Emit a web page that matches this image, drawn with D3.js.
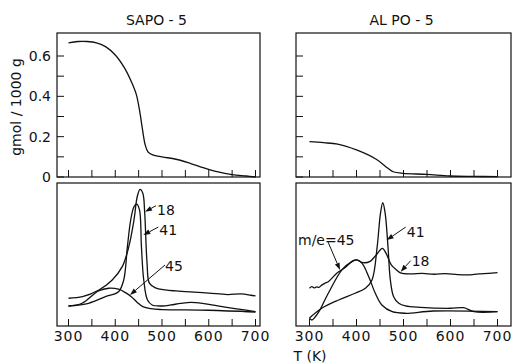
<!DOCTYPE html>
<html>
<head>
<meta charset="utf-8">
<script src="https://cdn.jsdelivr.net/npm/d3@7/dist/d3.min.js"></script>
<style>
  body { margin: 0; background: #fff; }
  svg text { font-family: "DejaVu Sans", sans-serif; fill: #111; }
</style>
</head>
<body>
<div id="chart"></div>
<script>
// temperature (K) and values
// top: amount adsorbed, gmol/1000 g
var sapoT   = [300, 320, 340, 360, 380, 400, 420, 435, 445, 452, 458, 464, 470, 480, 500, 530, 560, 590, 620, 650, 680, 700];
var sapoAds = [0.665, 0.672, 0.672, 0.665, 0.645, 0.605, 0.54, 0.47, 0.41, 0.33, 0.24, 0.16, 0.125, 0.11, 0.10, 0.088, 0.068, 0.045, 0.025, 0.012, 0.005, 0.0];
var alpoT   = [300, 330, 360, 400, 442, 467, 478, 499, 549, 598, 650, 700];
var alpoAds = [0.175, 0.17, 0.163, 0.134, 0.088, 0.043, 0.026, 0.018, 0.013, 0.005, 0.003, 0.002];

// bottom: desorption signal (arbitrary units), SAPO-5
var sapoT18 = [300, 330, 365, 393, 415, 429, 440, 447, 453, 459, 463, 468, 473, 486, 507, 530, 560, 600, 640, 670, 690, 700];
var sapoM18 = [19.4, 20.5, 25.2, 32, 41.5, 55.5, 74, 90.4, 95.6, 92.8, 79, 44, 30, 26.6, 25.2, 24.5, 23.8, 23, 22, 22.4, 21.5, 21];
var sapoT41 = [300, 343, 379, 407, 418, 426, 433, 440, 446, 452, 456, 461, 469, 479, 501, 519, 540, 562, 590, 619, 660, 700];
var sapoM41 = [14, 15.9, 20.5, 24, 32, 55.5, 74, 83.4, 85.3, 81, 55.5, 32, 18.2, 14.7, 14, 14.7, 15.8, 16.5, 15.6, 14, 12, 10.1];
var sapoT45 = [300, 329, 364, 386, 407, 422, 435, 447, 459, 476, 500, 600, 700];
var sapoM45 = [14, 15.9, 24.5, 26.4, 25.7, 23.3, 20.3, 16.5, 13.5, 12.1, 11.5, 11, 9.8];

// bottom: ALPO-5
var alpoT18 = [300, 305, 310, 315, 320, 326, 333, 340, 358, 376, 393, 400, 414, 428, 442, 455, 463, 474, 485, 495, 516, 540, 565, 590, 615, 636, 660, 680, 700];
var alpoM18 = [26.4, 27.5, 26.6, 27.3, 27, 28.6, 29.9, 31, 36.9, 41, 45.7, 46.2, 44.3, 45, 49.7, 54.3, 50.8, 42.7, 39.2, 36.9, 36.4, 36.8, 36.2, 36.6, 35.9, 35.7, 36.4, 36.8, 37.3];
var alpoT41 = [300, 326, 362, 397, 419, 433, 444, 451, 456, 461, 467, 472, 479, 490, 504, 536, 600, 628, 650, 700];
var alpoM41 = [5.6, 12.4, 18.2, 22.9, 26.4, 32.2, 55.5, 78.8, 86.2, 78.8, 55.5, 32.2, 20.5, 15.9, 14, 13, 12.4, 12.8, 10, 10];
var alpoT45 = [300, 305, 312, 320, 340, 369, 390, 401, 412, 426, 440, 454, 476, 504, 563, 700];
var alpoM45 = [5.5, 4.2, 6.3, 10, 22.9, 39.2, 45, 46.2, 43.8, 34.5, 22.9, 14.7, 10, 8.9, 10.5, 10];

var xTicks = [300, 350, 400, 450, 500, 550, 600, 650, 700];
var xLabels = [300, 400, 500, 600, 700];
var yTicks = [0, 0.1, 0.2, 0.3, 0.4, 0.5, 0.6];
var yLabels = [0, 0.2, 0.4, 0.6];

var W = 513, H = 363;
var svg = d3.select("#chart").append("svg")
    .attr("width", W).attr("height", H);

var topY = d3.scaleLinear().domain([0, 0.6]).range([177, 56]);
var botY = d3.scaleLinear().domain([0, 100]).range([326, 183]);

var cols = [
  { x: d3.scaleLinear().domain([300, 700]).range([68.5, 255.5]), l: 57, r: 260, title: "SAPO - 5",
    ads: [sapoT, sapoAds],
    ms: [[sapoT18, sapoM18], [sapoT41, sapoM41], [sapoT45, sapoM45]],
    notes: [
      { text: "18", t: 463.6, v: 79.9, dx: 11, dy: -6, lx: 12, ly: -2 },
      { text: "41", t: 460, v: 63.6, dx: 15, dy: -8, lx: 16, ly: -5 },
      { text: "45", t: 431.6, v: 21.7, dx: 35, dy: -30, lx: 35, ly: -29 }
    ], yAxis: true },
  { x: d3.scaleLinear().domain([300, 700]).range([309.5, 497.5]), l: 296, r: 511, title: "AL PO - 5",
    ads: [alpoT, alpoAds],
    ms: [[alpoT18, alpoM18], [alpoT41, alpoM41], [alpoT45, alpoM45]],
    notes: [
      { text: "m/e=45", t: 364.9, v: 39.2, dx: -12, dy: -28, lx: -42, ly: -30 },
      { text: "41", t: 464.3, v: 60.1, dx: 19, dy: -13, lx: 20, ly: -8 },
      { text: "18", t: 494, v: 38, dx: 10, dy: -11, lx: 11, ly: -11 }
    ], yAxis: false }
];

var line = function(xs) {
  return d3.line()
    .x(function(d) { return xs(d[0]); })
    .y(function(d) { return d[1]; })
    .curve(d3.curveCatmullRom.alpha(0.5));
};

cols.forEach(function(c) {
  var g = svg.append("g");

  // frames
  g.append("rect").attr("x", c.l).attr("y", 33).attr("width", c.r - c.l).attr("height", 177 - 33)
    .attr("fill", "none").attr("stroke", "#111").attr("stroke-width", 1.2);
  g.append("rect").attr("x", c.l).attr("y", 183).attr("width", c.r - c.l).attr("height", 326 - 183)
    .attr("fill", "none").attr("stroke", "#111").attr("stroke-width", 1.2);

  // title
  g.append("text").attr("x", (c.l + c.r) / 2 - 2).attr("y", 25)
    .attr("text-anchor", "middle").style("font-size", "14px").text(c.title);

  // x ticks (inward) on both panels
  [177, 326].forEach(function(yb) {
    g.selectAll(null).data(xTicks).enter().append("line")
      .attr("x1", function(d) { return c.x(d); }).attr("x2", function(d) { return c.x(d); })
      .attr("y1", yb).attr("y2", yb - 7)
      .attr("stroke", "#111").attr("stroke-width", 1);
  });
  g.selectAll(null).data(xLabels).enter().append("text")
    .attr("x", function(d) { return c.x(d); }).attr("y", 341)
    .attr("text-anchor", "middle").style("font-size", "14px").style("letter-spacing", "1px")
    .text(function(d) { return d; });

  // y ticks top panel
  g.selectAll(null).data(yTicks).enter().append("line")
    .attr("x1", c.l).attr("x2", c.l + 7)
    .attr("y1", function(d) { return topY(d); }).attr("y2", function(d) { return topY(d); })
    .attr("stroke", "#111").attr("stroke-width", 1);

  if (c.yAxis) {
    g.selectAll(null).data(yLabels).enter().append("text")
      .attr("x", c.l - 6).attr("y", function(d) { return topY(d) + 5; })
      .attr("text-anchor", "end").style("font-size", "14px")
      .text(function(d) { return d === 0 ? "0" : d3.format(".1f")(d); });
  }

  // adsorption curve
  var adsData = c.ads[0].map(function(t, i) { return [t, topY(c.ads[1][i])]; });
  g.append("path").attr("d", line(c.x)(adsData))
    .attr("fill", "none").attr("stroke", "#111").attr("stroke-width", 1.3);

  // m/e curves
  c.ms.forEach(function(s) {
    var d = s[0].map(function(t, i) { return [t, botY(s[1][i])]; });
    g.append("path").attr("d", line(c.x)(d))
      .attr("fill", "none").attr("stroke", "#111").attr("stroke-width", 1.3);
  });

  // annotations with arrows
  c.notes.forEach(function(n) {
    var tx = c.x(n.t), ty = botY(n.v);
    var sx = tx + n.dx, sy = ty + n.dy;
    var ang = Math.atan2(ty - sy, tx - sx);
    var hl = 7, hw = 2.5;
    var bx = tx - hl * Math.cos(ang), by = ty - hl * Math.sin(ang);
    g.append("line").attr("x1", sx).attr("y1", sy).attr("x2", bx).attr("y2", by)
      .attr("stroke", "#111").attr("stroke-width", 1);
    g.append("path")
      .attr("d", "M" + tx + "," + ty +
        "L" + (bx + hw * Math.sin(ang)) + "," + (by - hw * Math.cos(ang)) +
        "L" + (bx - hw * Math.sin(ang)) + "," + (by + hw * Math.cos(ang)) + "Z")
      .attr("fill", "#111");
    g.append("text").attr("x", tx + n.lx).attr("y", ty + n.ly + 5)
      .style("font-size", "14px").text(n.text);
  });
});

// axis titles
svg.append("text").attr("transform", "translate(21,107) rotate(-90)")
  .attr("text-anchor", "middle").style("font-size", "14px").text("gmol / 1000 g");
svg.append("text").attr("x", 310).attr("y", 361)
  .attr("text-anchor", "middle").style("font-size", "14px").text("T (K)");
</script>
</body>
</html>
